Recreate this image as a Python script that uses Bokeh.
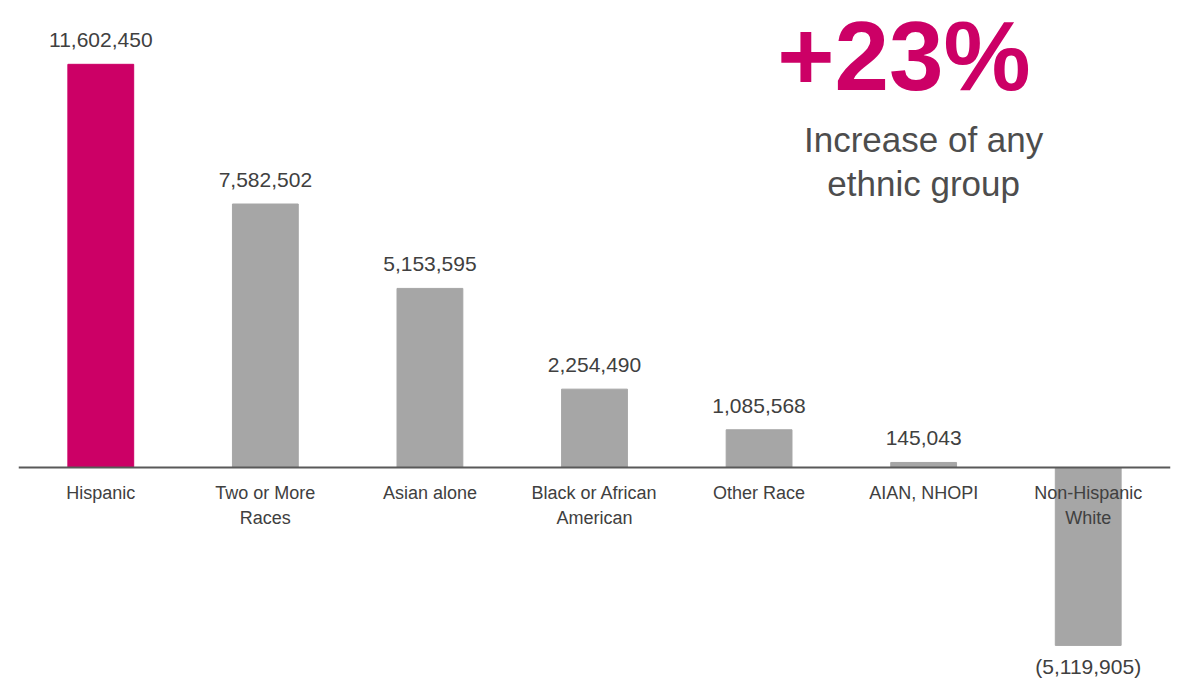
from bokeh.plotting import figure
from bokeh.models import ColumnDataSource, Range1d
from bokeh.core.properties import value
from bokeh.embed import file_html
from bokeh.resources import INLINE

categories = ["Hispanic", "Two or More Races", "Asian alone", "Black or African American",
              "Other Race", "AIAN, NHOPI", "Non-Hispanic White"]
cat_labels = ["Hispanic", "Two or More\nRaces", "Asian alone", "Black or African\nAmerican",
              "Other Race", "AIAN, NHOPI", "Non-Hispanic\nWhite"]
changes = [11602450, 7582502, 5153595, 2254490, 1085568, 145043, -5119905]
headline = "+23%"
subline = ["Increase of any", "ethnic group"]

PINK = "#CC0066"
GRAY = "#A6A6A6"
TXT = "#404040"

def fmt(v):
    return f"{v:,}" if v >= 0 else f"({abs(v):,})"

idx = list(range(len(categories)))
colors = [PINK] + [GRAY] * (len(categories) - 1)
src = ColumnDataSource(dict(
    x=idx, val=changes, color=colors,
    catlab=cat_labels, zero=[0] * len(categories),
))
pos_src = ColumnDataSource(dict(x=[i for i, v in zip(idx, changes) if v >= 0],
                                val=[v for v in changes if v >= 0],
                                lab=[fmt(v) for v in changes if v >= 0]))
neg_src = ColumnDataSource(dict(x=[i for i, v in zip(idx, changes) if v < 0],
                                val=[v for v in changes if v < 0],
                                lab=[fmt(v) for v in changes if v < 0]))

YTOP = 13439000
p = figure(width=1180, height=683, output_backend="svg", toolbar_location=None,
           x_range=Range1d(-0.5, len(categories) - 0.5),
           y_range=Range1d(-6216000, YTOP),
           min_border_left=18, min_border_right=10, min_border_top=0, min_border_bottom=0)
p.xaxis.visible = False
p.yaxis.visible = False
p.xgrid.visible = False
p.ygrid.visible = False
p.outline_line_color = None
p.background_fill_color = "white"
p.border_fill_color = "white"

p.vbar(x="x", top="val", bottom=0, width=0.4, color="color", source=src)
p.segment(x0=[-0.5], y0=[0], x1=[len(categories) - 0.5], y1=[0],
          line_color="#595959", line_width=2)

p.text(x="x", y="val", text="lab", source=pos_src, text_align="center", text_baseline="middle",
       y_offset=-24, text_font=value("Liberation Sans"), text_font_size="21px", text_color=TXT)
p.text(x="x", y="val", text="lab", source=neg_src, text_align="center", text_baseline="middle",
       y_offset=21, text_font=value("Liberation Sans"), text_font_size="21px", text_color=TXT)

p.text(x="x", y="zero", text="catlab", source=src, text_align="center", text_baseline="top",
       y_offset=16, text_font=value("Liberation Sans"), text_font_size="18px", text_color=TXT,
       text_line_height=1.25)

s_src = ColumnDataSource(dict(x=[5, 5], y=[9439000, 8172000], t=subline))
p.text(x="x", y="y", text="t", source=s_src,
       text_align="center", text_baseline="alphabetic", text_font=value("Liberation Sans"),
       text_font_size="35px", text_color="#4D4D4D")

h_src = ColumnDataSource(dict(x=[4.88], y=[11856000], t=[headline]))
p.text(x="x", y="y", text="t", source=h_src,
       text_align="center", text_baseline="alphabetic", text_font=value("Liberation Sans"),
       text_font_style="bold", text_font_size="98px", text_color=PINK)

open("out.html", "w").write(file_html(p, INLINE))
